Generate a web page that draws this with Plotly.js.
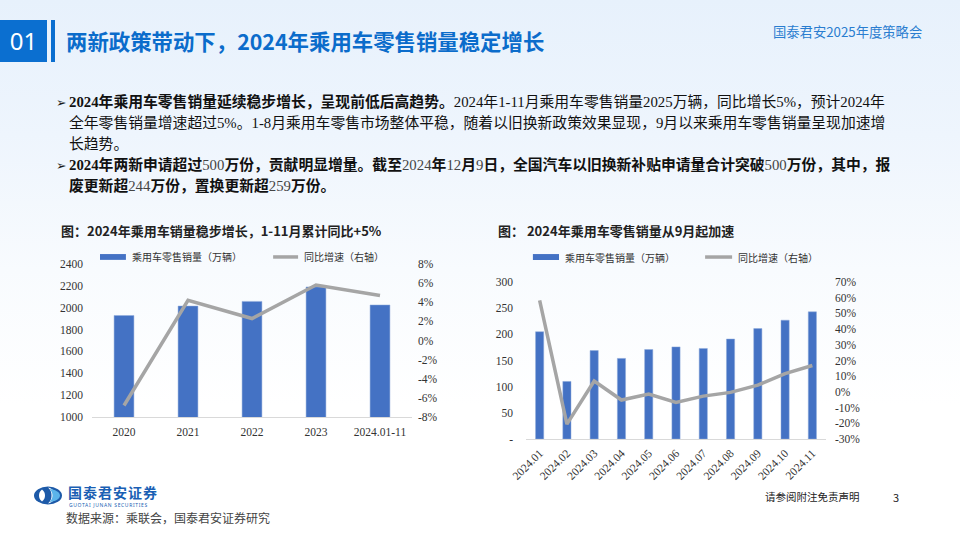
<!DOCTYPE html>
<html><head><meta charset="utf-8">
<script src="https://cdn.plot.ly/plotly-3.0.1.min.js"></script>
<style>
html,body{margin:0;padding:0;}
body{width:960px;height:540px;position:relative;overflow:hidden;
 background:linear-gradient(180deg,#e7f1fc 0%,#eef5fd 25%,#f8fbfe 50%,#ffffff 75%);
 font-family:"Noto Sans CJK SC","Noto Sans",sans-serif;}
.abs{position:absolute;white-space:nowrap;}
#numbox{left:0;top:20px;width:47px;height:42px;background:#0b6fd0;color:#fff;font-size:24px;line-height:42px;text-align:center;font-family:"Noto Sans","Noto Sans CJK SC";}
#vbar{left:51px;top:20px;width:4px;height:42px;background:#0b6fd0;}
#title{left:66px;top:26px;font-size:21.4px;line-height:30px;font-weight:bold;color:#0b6ccb;}
#conf{left:773px;top:22px;font-size:13.3px;line-height:20px;color:#2a7dd0;}
#txt{left:58px;top:92px;font-family:"Liberation Serif","Noto Sans CJK SC",serif;font-size:14.8px;line-height:21px;color:#111;}
#txt .ln{position:relative;padding-left:11px;height:21px;}
#txt .bl{position:absolute;left:-2px;top:0;font-family:"DejaVu Sans";font-size:12.5px;color:#1a1a1a;}
#txt b{font-weight:bold;}
#txt .n{color:#444;}
.ctitle{font-size:13px;font-weight:bold;color:#222;line-height:18px;}
#chart1{position:absolute;left:50px;top:240px;width:400px;height:205px;}
#chart2{position:absolute;left:470px;top:240px;width:400px;height:262px;}
#src{left:66px;top:508.5px;font-size:12px;line-height:18px;color:#444;}
#disc{left:765px;top:489px;font-size:10.5px;line-height:16px;color:#222;}
#pg{left:893px;top:489px;font-size:11px;line-height:16px;color:#222;}
#logoTxt{left:68px;top:484.5px;font-size:14px;line-height:14px;height:14px;font-weight:bold;color:#1a5fb4;letter-spacing:1px;}
#logoSub{left:69px;top:502px;font-size:5px;line-height:6px;height:6px;color:#1a5fb4;font-family:"Noto Sans";letter-spacing:0.65px;}
</style></head>
<body>
<div id="numbox" class="abs">01</div>
<div id="vbar" class="abs"></div>
<div id="title" class="abs">两新政策带动下，2024年乘用车零售销量稳定增长</div>
<div id="conf" class="abs">国泰君安2025年度策略会</div>

<div id="txt" class="abs">
 <div class="ln"><span class="bl">➢</span><b>2024年乘用车零售销量延续稳步增长，呈现前低后高趋势。</b>2024年1-11月乘用车零售销量2025万辆，同比增长5%，预计2024年</div>
 <div class="ln">全年零售销量增速超过5%。1-8月乘用车零售市场整体平稳，随着以旧换新政策效果显现，9月以来乘用车零售销量呈现加速增</div>
 <div class="ln">长趋势。</div>
 <div class="ln"><span class="bl">➢</span><b>2024年两新申请超过</b><span class="n">500</span><b>万份，贡献明显增量。截至</b><span class="n">2024</span><b>年</b><span class="n">12</span><b>月</b><span class="n">9</span><b>日，全国汽车以旧换新补贴申请量合计突破</b><span class="n">500</span><b>万份，其中，报</b></div>
 <div class="ln"><b>废更新超</b><span class="n">244</span><b>万份，置换更新超</b><span class="n">259</span><b>万份。</b></div>
</div>

<div class="abs ctitle" style="left:61px;top:222px;">图：2024年乘用车销量稳步增长，1-11月累计同比+5%</div>
<div class="abs ctitle" style="left:498px;top:222px;">图： 2024年乘用车零售销量从9月起加速</div>

<div id="chart1"></div>
<div id="chart2"></div>

<svg class="abs" style="left:33px;top:486px;" width="32" height="19" viewBox="0 0 32 19">
 <ellipse cx="15" cy="9.5" rx="14" ry="9" fill="#1d5aa8"/>
 <path d="M15,1.5 C20,2.5 22,6 22,9.5 C22,13 20,16.5 15,17.5 C18,15 18.5,12 18.5,9.5 C18.5,7 18,4 15,1.5Z" fill="#ffffff"/>
 <path d="M16.5,3 C22,3.5 27,6 27,9.5 C27,13 22,15.5 16.5,16 C19,13.5 19.5,11.5 19.5,9.5 C19.5,7.5 19,5.5 16.5,3Z" fill="#5bb4ea"/>
 <path d="M9,3.5 C11.5,5.5 12,7.5 12,9.5 C12,11.5 11.5,13.5 9,15.5 C6.5,13.5 6,11.5 6,9.5 C6,7.5 6.5,5.5 9,3.5Z" fill="#ffffff"/>
</svg>
<div id="logoTxt" class="abs">国泰君安证券</div>
<div id="logoSub" class="abs">GUOTAI JUNAN SECURITIES</div>
<div id="src" class="abs">数据来源：乘联会，国泰君安证券研究</div>
<div id="disc" class="abs">请参阅附注免责声明</div>
<div id="pg" class="abs">3</div>

<script>
// ---- Chart 1 data ----
const yearCats = ["2020","2021","2022","2023","2024.01-11"];
const yearSales = [1929, 2015, 2058, 2190, 2025];
const yearYoY = [-0.068, 0.042, 0.023, 0.058, 0.047];
const c1LeftTicks = [1000,1200,1400,1600,1800,2000,2200,2400];
const c1RightVals = [-0.08,-0.06,-0.04,-0.02,0,0.02,0.04,0.06,0.08];
const c1RightText = ["-8%","-6%","-4%","-2%","0%","2%","4%","6%","8%"];

// ---- Chart 2 data ----
const monthCats = ["2024.01","2024.02","2024.03","2024.04","2024.05","2024.06","2024.07","2024.08","2024.09","2024.10","2024.11"];
const monthSales = [205, 110, 169, 154, 171, 176, 173, 191, 211, 227, 243];
const monthYoY = [0.583, -0.205, 0.069, -0.052, -0.014, -0.067, -0.027, -0.003, 0.043, 0.117, 0.168];
const c2LeftVals = [0,50,100,150,200,250,300];
const c2LeftText = ["-","50","100","150","200","250","300"];
const c2RightVals = [-0.3,-0.2,-0.1,0,0.1,0.2,0.3,0.4,0.5,0.6,0.7];
const c2RightText = ["-30%","-20%","-10%","0%","10%","20%","30%","40%","50%","60%","70%"];

const legendNames = ["乘用车零售销量（万辆）","同比增速（右轴）"];

const BAR = "#4472c4", LINE = "#a5a5a5";
const tickFont = {family:"Liberation Serif, serif", size:11.5, color:"#333"};
const legFont = {family:"Noto Sans CJK SC", size:10, color:"#333"};

function legendItems(y, bx0, bx1, tx1, lx0, lx1, tx2, h){
  return {
    shapes:[
      {type:"rect",xref:"paper",yref:"paper",x0:bx0,x1:bx1,y0:y-h,y1:y+h,fillcolor:BAR,line:{width:0}},
      {type:"line",xref:"paper",yref:"paper",x0:lx0,x1:lx1,y0:y,y1:y,line:{color:LINE,width:3.5}}
    ],
    annotations:[
      {xref:"paper",yref:"paper",x:tx1,y:y,xanchor:"left",yanchor:"middle",text:legendNames[0],showarrow:false,font:legFont},
      {xref:"paper",yref:"paper",x:tx2,y:y,xanchor:"left",yanchor:"middle",text:legendNames[1],showarrow:false,font:legFont}
    ]
  };
}

// Chart 1
(function(){
  const leg = legendItems(1.046, 0.025, 0.106, 0.118, 0.566, 0.644, 0.656, 0.019);
  const data = [
    {type:"bar",x:yearCats,y:yearSales,marker:{color:BAR,line:{color:"#8eaadb",width:0.5}},name:legendNames[0],hoverinfo:"none"},
    {type:"scatter",mode:"lines",x:yearCats,y:yearYoY,yaxis:"y2",line:{color:LINE,width:3.5},name:legendNames[1],hoverinfo:"none"}
  ];
  const layout = {
    width:400,height:205,margin:{l:42,r:38,t:24,b:28},
    paper_bgcolor:"rgba(0,0,0,0)",plot_bgcolor:"rgba(0,0,0,0)",
    showlegend:false,bargap:0.69,
    xaxis:{type:"category",showline:true,linecolor:"#d9d9d9",linewidth:1,ticks:"",tickfont:tickFont,showgrid:false,ticklabelstandoff:4},
    yaxis:{range:[1000,2400],tickvals:c1LeftTicks,showgrid:false,zeroline:false,tickfont:tickFont,ticks:"",ticklabelstandoff:8},
    yaxis2:{overlaying:"y",side:"right",range:[-0.08,0.08],tickvals:c1RightVals,ticktext:c1RightText,showgrid:false,zeroline:false,tickfont:tickFont,ticks:"",ticklabelstandoff:5},
    shapes:leg.shapes,annotations:leg.annotations
  };
  Plotly.newPlot("chart1",data,layout,{staticPlot:true,displayModeBar:false});
})();

// Chart 2
(function(){
  const leg = legendItems(1.159, 0.023, 0.11, 0.122, 0.597, 0.687, 0.699, 0.019);
  const data = [
    {type:"bar",x:monthCats,y:monthSales,marker:{color:BAR,line:{color:"#8eaadb",width:0.5}},name:legendNames[0],hoverinfo:"none"},
    {type:"scatter",mode:"lines",x:monthCats,y:monthYoY,yaxis:"y2",line:{color:LINE,width:3.5},name:legendNames[1],hoverinfo:"none"}
  ];
  const layout = {
    width:400,height:262,margin:{l:56,r:44,t:42,b:63},
    paper_bgcolor:"rgba(0,0,0,0)",plot_bgcolor:"rgba(0,0,0,0)",
    showlegend:false,bargap:0.7,
    xaxis:{type:"category",showline:true,linecolor:"#d9d9d9",linewidth:1,ticks:"",tickfont:tickFont,tickangle:-45,showgrid:false,ticklabelstandoff:2,automargin:false},
    yaxis:{range:[0,300],tickvals:c2LeftVals,ticktext:c2LeftText,showgrid:false,zeroline:false,tickfont:tickFont,ticks:"",ticklabelstandoff:12},
    yaxis2:{overlaying:"y",side:"right",range:[-0.3,0.7],tickvals:c2RightVals,ticktext:c2RightText,showgrid:false,zeroline:false,tickfont:tickFont,ticks:"",ticklabelstandoff:8},
    shapes:leg.shapes,annotations:leg.annotations
  };
  Plotly.newPlot("chart2",data,layout,{staticPlot:true,displayModeBar:false});
})();
</script>
</body></html>
